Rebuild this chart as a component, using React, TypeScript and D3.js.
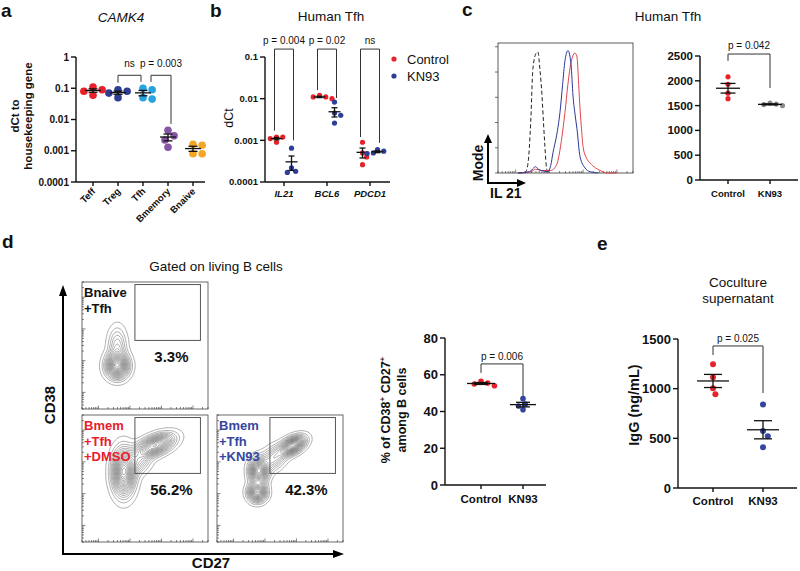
import React from 'react';
import * as d3 from 'd3';

const FONT = '"Liberation Sans", Arial, Helvetica, sans-serif';
const RED = '#e5232a';
const BLUE = '#2f3f97';

// ---- panel a: CAMK4 expression by cell type
const aCells = ['Teff', 'Treg', 'Tfh', 'Bmemory', 'Bnaive'];
const aColors = ['#e8202a', '#2e3c92', '#27a3df', '#8656a5', '#f6a623'];
const aValues = [
  [0.06, 0.08, 0.09, 0.11],
  [0.05, 0.07, 0.08, 0.09],
  [0.045, 0.05, 0.09, 0.1],
  [0.0045, 0.003, 0.0022, 0.0013],
  [0.0016, 0.0015, 0.0008, 0.0008],
];
const aTicks = [1, 0.1, 0.01, 0.001, 0.0001];
const aBrackets = [
  { from: 'Treg', to: 'Tfh', label: 'ns', top: 0.26, left: 0.15, right: 0.16 },
  { from: 'Tfh', to: 'Bmemory', label: 'p = 0.003', top: 0.26, left: 0.16, right: 0.0072 },
];

// ---- panel b: Human Tfh genes
const bGenes = ['IL21', 'BCL6', 'PDCD1'];
const bControl = [
  [0.0012, 0.0012, 0.0011, 0.0009],
  [0.012, 0.011, 0.011, 0.01],
  [0.0009, 0.0005, 0.0004, 0.00026],
];
const bKN93 = [
  [0.00065, 0.00022, 0.00018, 0.00017],
  [0.0083, 0.0045, 0.004, 0.0026],
  [0.0006, 0.00055, 0.0005, 0.00048],
];
const bTicks = [0.1, 0.01, 0.001, 0.0001];
const bBrackets = [
  { label: 'p = 0.004', top: 0.155, left: 0.0017, right: 0.001 },
  { label: 'p = 0.02', top: 0.155, left: 0.016, right: 0.0104 },
  { label: 'ns', top: 0.155, left: 0.0012, right: 0.00087 },
];

// ---- panel c: IL 21 histogram (channel, % of mode) and MFI
const cIsotype: [number, number][] = [
  [150, 0], [210, 1], [228, 8], [248, 40], [265, 83], [290, 95], [303, 96], [318, 82],
  [334, 61], [346, 38], [356, 21], [364, 8], [372, 2], [400, 0],
];
const cKN93Hist: [number, number][] = [
  [160, 0], [240, 1], [270, 4], [285, 5], [305, 3], [330, 2], [379, 1], [400, 6], [417, 16],
  [445, 30], [470, 48], [490, 70], [508, 89], [531, 97], [554, 86], [569, 61], [585, 46],
  [599, 35], [622, 13], [660, 4], [698, 1], [760, 0],
];
const cControlHist: [number, number][] = [
  [160, 0], [250, 1], [285, 3], [330, 2], [400, 2], [430, 4], [455, 10], [480, 25], [508, 48],
  [530, 70], [546, 83], [565, 92], [584, 95], [599, 92], [612, 70], [622, 51], [635, 33],
  [645, 21], [670, 12], [698, 8], [740, 4], [774, 2], [827, 0], [900, 0],
];
const cControl = [2080, 1930, 1750, 1640];
const cKN93 = [1550, 1530, 1520, 1500];
const cTicks = [0, 500, 1000, 1500, 2000, 2500];

// ---- panel d: flow populations [cx, cy, sx, sy, rho, weight] in % of plot
const dPlots = [
  { col: 0, row: 0, lines: ['Bnaive', '+Tfh'], color: '#111', pct: '3.3%',
    pops: [[28, 34, 5.5, 6, 0, 1], [28, 50, 4.5, 9, 0, 0.3]] },
  { col: 0, row: 1, lines: ['Bmem', '+Tfh', '+DMSO'], color: '#e8202a', pct: '56.2%',
    pops: [[33, 55, 5.5, 11, 0, 1], [58, 76, 9, 5.5, 0.5, 0.9], [45, 63, 6, 6, 0.2, 0.3]] },
  { col: 1, row: 1, lines: ['Bmem', '+Tfh', '+KN93'], color: '#3546a0', pct: '42.3%',
    pops: [[60, 76, 6, 4.5, 0.45, 0.8], [33, 56, 4.5, 6, 0, 0.75], [32, 39, 4.5, 4.5, 0, 0.7], [45, 66, 6, 6, 0.3, 0.3]] },
];
const dControl = [56.5, 54, 55, 55.5];
const dKN93 = [47, 44, 43, 41];
const dTicks = [0, 20, 40, 60, 80];

// ---- panel e: IgG in coculture supernatant
const eControl = [1245, 1115, 1005, 945];
const eKN93 = [840, 575, 520, 410];
const eTicks = [0, 500, 1000, 1500];

function dodge(ys: number[], r: number): number[] {
  const placed: { x: number; y: number }[] = [];
  const out: number[] = new Array(ys.length).fill(0);
  const order = d3.range(ys.length).sort((a, b) => ys[a] - ys[b]);
  for (const i of order) {
    let k = 0;
    let x = 0;
    for (;;) {
      const cand = k === 0 ? 0 : (k % 2 ? 1 : -1) * Math.ceil(k / 2) * r * 0.8;
      if (placed.every((p) => Math.hypot(p.x - cand, p.y - ys[i]) >= r * 2)) { x = cand; break; }
      k++;
    }
    placed.push({ x, y: ys[i] });
    out[i] = x;
  }
  return out;
}

function Dots({ x, values, y, r, color, half, semHalf }: any) {
  const ys = values.map((v: number) => y(v));
  const dx = dodge(ys, r);
  const m = d3.mean(values as number[])!;
  const s = d3.deviation(values as number[])! / Math.sqrt(values.length);
  return (
    <g>
      {ys.map((yy: number, k: number) => <circle key={k} cx={x + dx[k]} cy={yy} r={r} fill={color} />)}
      <g stroke="#111" strokeWidth={1.3}>
        <line x1={x - half} x2={x + half} y1={y(m)} y2={y(m)} />
        <line x1={x} x2={x} y1={y(m + s)} y2={y(m - s)} />
        <line x1={x - semHalf} x2={x + semHalf} y1={y(m + s)} y2={y(m + s)} />
        <line x1={x - semHalf} x2={x + semHalf} y1={y(m - s)} y2={y(m - s)} />
      </g>
    </g>
  );
}

function YAxis({ x, y, ticks, fmt, fs, weight = 'bold' }: any) {
  const [r0, r1] = y.range();
  return (
    <g>
      <line x1={x} x2={x} y1={r0} y2={r1} stroke="#111" strokeWidth={1.4} />
      {ticks.map((t: number) => (
        <g key={t}>
          <line x1={x - 5} x2={x} y1={y(t)} y2={y(t)} stroke="#111" strokeWidth={1.4} />
          <text x={x - 7} y={y(t)} dy="0.35em" textAnchor="end" fontSize={fs} fontWeight={weight}>{fmt(t)}</text>
        </g>
      ))}
    </g>
  );
}

function Bracket({ x1, x2, top, y1, y2, label, off = 5, fs = 10 }: any) {
  return (
    <g>
      <path d={`M${x1},${y1}V${top}H${x2}V${y2}`} fill="none" stroke="#333" strokeWidth={1} />
      <text x={(x1 + x2) / 2} y={top - off} textAnchor="middle" fontSize={fs}>{label}</text>
    </g>
  );
}

function LogTicks({ x0, x1, y0, y1, orient }: any) {
  // decorative flow-cytometry style log ticks along an edge
  const sc = d3.scaleLog().domain([30, 300000]).range(orient === 'x' ? [x0, x1] : [y0, y1]);
  return (
    <g stroke="#333" strokeWidth={0.6}>
      {sc.ticks().map((t, i) => {
        const p = sc(t);
        const major = Math.abs(Math.log10(t) - Math.round(Math.log10(t))) < 1e-6;
        const L = major ? 3.5 : 2;
        return orient === 'x'
          ? <line key={i} x1={p} x2={p} y1={y0} y2={y0 - L} />
          : <line key={i} x1={x0} x2={x0 + L} y1={p} y2={p} />;
      })}
    </g>
  );
}

function density(pops: number[][]) {
  const n = 100;
  const vals = new Array(n * n);
  let mx = 0;
  for (let j = 0; j < n; j++) {
    for (let i = 0; i < n; i++) {
      let v = 0;
      for (const [cx, cy, sx, sy, rho, w] of pops) {
        const dx = (i + 0.5 - cx) / sx;
        const dy = (j + 0.5 - cy) / sy;
        const q = (dx * dx - 2 * rho * dx * dy + dy * dy) / (1 - rho * rho);
        v += w * Math.exp(-q / 2);
      }
      vals[i + j * n] = v;
      if (v > mx) mx = v;
    }
  }
  return vals.map((v) => v / mx);
}

export default function App() {
  // panel a scales
  const aY = d3.scaleLog().domain([1e-4, 1]).range([182, 57]);
  const aX = d3.scalePoint<string>().domain(aCells).range([93, 193]);

  // panel b scales
  const bY = d3.scaleLog().domain([1e-4, 0.1]).range([182, 57]);
  const bX = d3.scaleBand<string>().domain(bGenes).range([262.5, 391.5]);
  const bSub = d3.scalePoint<string>().domain(['Control', 'KN93']).range([-7.5, 7.5]);
  const bc = (g: string) => bX(g)! + bX.bandwidth() / 2;

  // panel c histogram
  const hx = d3.scaleLinear().domain([0, 1024]).range([498, 633]);
  const hy = d3.scaleLinear().domain([0, 103]).range([173, 43]);
  const hLine = d3.line<[number, number]>().x((d) => hx(d[0])).y((d) => hy(d[1])).curve(d3.curveMonotoneX);
  const cY = d3.scaleLinear().domain([0, 2500]).range([180, 56]);
  const cX = d3.scalePoint<string>().domain(['Control', 'KN93']).range([728, 770]);

  // panel d
  const dY = d3.scaleLinear().domain([0, 80]).range([485, 338]);
  const dX = d3.scalePoint<string>().domain(['Control', 'KN93']).range([481, 523]);
  const colX = [82, 217];
  const rowY = [282, 415];
  const PW = 126;
  const PH = 127;
  const levels = d3.range(0.035, 1, 0.052);

  // panel e
  const eY = d3.scaleLinear().domain([0, 1500]).range([488, 339]);
  const eX = d3.scalePoint<string>().domain(['Control', 'KN93']).range([713, 763]);

  const fmtLog = (t: number) => (t >= 1 ? '1' : String(+t.toPrecision(1)));

  return (
    <svg width={800} height={571} style={{ position: 'absolute', left: 0, top: 0, background: '#fff' }}
      fontFamily={FONT} fill="#111">
      {/* panel letters */}
      {[['a', 1, 17], ['b', 210, 17], ['c', 462, 16], ['d', 2, 248], ['e', 597, 250]].map(([l, x, y]) => (
        <text key={l as string} x={x as number} y={y as number} fontSize={19} fontWeight="bold">{l}</text>
      ))}

      {/* ---------- panel a ---------- */}
      <text x={121} y={22} textAnchor="middle" fontSize={13.5} fontStyle="italic">CAMK4</text>
      <g transform="translate(19,116) rotate(-90)">
        <text textAnchor="middle" fontSize={11.5} fontWeight="bold">dCt to</text>
        <text y={12.5} textAnchor="middle" fontSize={11.5} fontWeight="bold">housekeeping gene</text>
      </g>
      <YAxis x={76} y={aY} ticks={aTicks} fmt={fmtLog} fs={10} />
      <line x1={76} x2={205} y1={182} y2={182} stroke="#111" strokeWidth={1.4} />
      {aCells.map((c) => (
        <g key={c}>
          <line x1={aX(c)} x2={aX(c)} y1={182} y2={186} stroke="#111" strokeWidth={1.4} />
          <text transform={`translate(${aX(c)! + 3},${192}) rotate(-45)`} textAnchor="end" fontSize={9.5} fontWeight="bold">{c}</text>
        </g>
      ))}
      {aCells.map((c, gi) => (
        <Dots key={c} x={aX(c)} values={aValues[gi]} y={aY} r={3.8} color={aColors[gi]} half={8} semHalf={4.5} />
      ))}
      {aBrackets.map((b, i) => (
        <Bracket key={i} x1={aX(b.from)! + (i > 0 ? 8 : 0)} x2={aX(b.to)! + (i === 0 ? -2 : 3)}
          top={aY(b.top)} y1={aY(b.left)} y2={aY(b.right)} label={b.label} off={8} />
      ))}

      {/* ---------- panel b ---------- */}
      <text x={331} y={21} textAnchor="middle" fontSize={13.5}>Human Tfh</text>
      <text transform="translate(233,118) rotate(-90)" textAnchor="middle" fontSize={12.5}>dCt</text>
      <YAxis x={265} y={bY} ticks={bTicks} fmt={fmtLog} fs={9.5} />
      <line x1={265} x2={390} y1={182} y2={182} stroke="#111" strokeWidth={1.4} />
      {bGenes.map((g, gi) => (
        <g key={g}>
          <line x1={bc(g)} x2={bc(g)} y1={182} y2={186} stroke="#111" strokeWidth={1.4} />
          <text x={bc(g)} y={197} textAnchor="middle" fontSize={9.5} fontWeight="bold" fontStyle="italic">{g}</text>
          <Dots x={bc(g) + bSub('Control')!} values={bControl[gi]} y={bY} r={2.6} color={RED} half={6} semHalf={3} />
          <Dots x={bc(g) + bSub('KN93')!} values={bKN93[gi]} y={bY} r={2.6} color={BLUE} half={6} semHalf={3} />
          <Bracket x1={bc(g) + bSub('Control')! - 2} x2={bc(g) + bSub('KN93')! + 2} top={bY(bBrackets[gi].top)}
            y1={bY(bBrackets[gi].left)} y2={bY(bBrackets[gi].right)} label={bBrackets[gi].label} off={5} />
        </g>
      ))}
      <circle cx={394} cy={59} r={2.6} fill={RED} />
      <text x={407} y={63.5} fontSize={13}>Control</text>
      <circle cx={394} cy={76} r={2.6} fill={BLUE} />
      <text x={407} y={80.5} fontSize={13}>KN93</text>

      {/* ---------- panel c ---------- */}
      <text x={668} y={21} textAnchor="middle" fontSize={13.5}>Human Tfh</text>
      <rect x={498} y={43} width={135} height={130} fill="none" stroke="#333" strokeWidth={0.8} />
      <g stroke="#333" strokeWidth={0.7}>
        {d3.range(0, 101, 20).map((t) => <line key={t} x1={495} x2={498} y1={hy(t)} y2={hy(t)} />)}
      </g>
      <LogTicks x0={498} x1={633} y0={173} orient="x" />
      <path d={hLine(cIsotype)!} fill="none" stroke="#222" strokeWidth={1} strokeDasharray="4,2.5" />
      <path d={hLine(cControlHist)!} fill="none" stroke="#e0454c" strokeWidth={1} />
      <path d={hLine(cKN93Hist)!} fill="none" stroke="#2b3898" strokeWidth={1} />
      <g stroke="#000" strokeWidth={2}>
        <line x1={488} x2={488} y1={183} y2={142} />
        <line x1={487} x2={518} y1={183} y2={183} />
      </g>
      <path d="M488,134 L484,143 L492,143 Z" fill="#000" />
      <path d="M526,183 L517,179 L517,187 Z" fill="#000" />
      <text transform="translate(483,163) rotate(-90)" textAnchor="middle" fontSize={14} fontWeight="bold">Mode</text>
      <text x={490} y={198} fontSize={14} fontWeight="bold">IL 21</text>

      <YAxis x={700} y={cY} ticks={cTicks} fmt={(t: number) => String(t)} fs={11.5} />
      <line x1={700} x2={798} y1={180} y2={180} stroke="#111" strokeWidth={1.4} />
      {['Control', 'KN93'].map((g) => (
        <g key={g}>
          <line x1={cX(g)} x2={cX(g)} y1={180} y2={184} stroke="#111" strokeWidth={1.4} />
          <text x={cX(g)} y={197} textAnchor="middle" fontSize={9.5} fontWeight="bold">{g}</text>
        </g>
      ))}
      <Dots x={cX('Control')} values={cControl} y={cY} r={2.6} color={RED} half={12} semHalf={7.5} />
      <Dots x={cX('KN93')} values={cKN93} y={cY} r={2.6} color="#8a8a8a" half={12} semHalf={7.5} />
      <Bracket x1={cX('Control')} x2={cX('KN93')} top={cY(2540)} y1={cY(2400)} y2={cY(1855)} label="p = 0.042" off={5} />

      {/* ---------- panel d ---------- */}
      <text x={216} y={271} textAnchor="middle" fontSize={13.5}>Gated on living B cells</text>
      {dPlots.map((p, pi) => {
        const x0 = colX[p.col];
        const y0 = rowY[p.row];
        const sx = d3.scaleLinear().domain([0, 100]).range([x0, x0 + PW]);
        const sy = d3.scaleLinear().domain([0, 100]).range([y0 + PH, y0]);
        const proj = d3.geoTransform({
          point(x: number, y: number) { (this as any).stream.point(sx(x), sy(y)); },
        });
        const path = d3.geoPath(proj);
        const cs = d3.contours().size([100, 100]).thresholds(levels)(density(p.pops));
        return (
          <g key={pi}>
            <g fill="none" stroke="#5f5f5f" strokeWidth={0.5}>
              {cs.map((c, k) => <path key={k} d={path(c as any) || ''} />)}
            </g>
            <rect x={x0} y={y0} width={PW} height={PH} fill="none" stroke="#444" strokeWidth={0.8} />
            <rect x={sx(42)} y={sy(98)} width={sx(94) - sx(42)} height={sy(54) - sy(98)} fill="none" stroke="#555" strokeWidth={1} />
            <LogTicks x0={x0} x1={x0 + PW} y0={y0 + PH} orient="x" />
            <LogTicks x0={x0} y0={y0 + PH} y1={y0} orient="y" />
            {p.lines.map((l, li) => (
              <text key={li} x={x0 + 2} y={y0 + 15 + li * 15.5} fontSize={13} fontWeight="bold" fill={p.color}>{l}</text>
            ))}
            <text x={sx(71)} y={sy(54) + 22} textAnchor="middle" fontSize={15} fontWeight="bold">{p.pct}</text>
          </g>
        );
      })}
      <g stroke="#000" strokeWidth={2}>
        <line x1={63} x2={63} y1={554} y2={295} />
        <line x1={62} x2={335} y1={554} y2={554} />
      </g>
      <path d="M63,285 L59,296 L67,296 Z" fill="#000" />
      <path d="M344,554 L333,550 L333,558 Z" fill="#000" />
      <text transform="translate(55,405) rotate(-90)" textAnchor="middle" fontSize={15} fontWeight="bold">CD38</text>
      <text x={211} y={568} textAnchor="middle" fontSize={15} fontWeight="bold">CD27</text>

      <g transform="translate(390,410) rotate(-90)" fontWeight="bold" fontSize={12.5}>
        <text textAnchor="middle">% of CD38<tspan dy={-5} fontSize={8}>+</tspan><tspan dy={5}> CD27</tspan><tspan dy={-5} fontSize={8}>+</tspan></text>
        <text y={16} textAnchor="middle">among B cells</text>
      </g>
      <YAxis x={445} y={dY} ticks={dTicks} fmt={(t: number) => String(t)} fs={13} />
      <line x1={445} x2={546} y1={485} y2={485} stroke="#111" strokeWidth={1.4} />
      {['Control', 'KN93'].map((g) => (
        <g key={g}>
          <line x1={dX(g)} x2={dX(g)} y1={485} y2={489} stroke="#111" strokeWidth={1.4} />
          <text x={dX(g)} y={503} textAnchor="middle" fontSize={11.5} fontWeight="bold">{g}</text>
        </g>
      ))}
      <Dots x={dX('Control')} values={dControl} y={dY} r={2.8} color={RED} half={14} semHalf={7} />
      <Dots x={dX('KN93')} values={dKN93} y={dY} r={2.8} color="#3546a0" half={13} semHalf={7} />
      <Bracket x1={dX('Control')} x2={dX('KN93')} top={dY(65.9)} y1={dY(61)} y2={dY(48)} label="p = 0.006" off={4} />

      {/* ---------- panel e ---------- */}
      <text x={738} y={287} textAnchor="middle" fontSize={13.5}>Coculture</text>
      <text x={738} y={303} textAnchor="middle" fontSize={13.5}>supernatant</text>
      <text transform="translate(639,405) rotate(-90)" textAnchor="middle" fontSize={14.5} fontWeight="bold">IgG (ng/mL)</text>
      <YAxis x={678} y={eY} ticks={eTicks} fmt={(t: number) => String(t)} fs={13} />
      <line x1={678} x2={797} y1={488} y2={488} stroke="#111" strokeWidth={1.4} />
      {['Control', 'KN93'].map((g) => (
        <g key={g}>
          <line x1={eX(g)} x2={eX(g)} y1={488} y2={492} stroke="#111" strokeWidth={1.4} />
          <text x={eX(g)} y={505} textAnchor="middle" fontSize={11.5} fontWeight="bold">{g}</text>
        </g>
      ))}
      <Dots x={eX('Control')} values={eControl} y={eY} r={3} color={RED} half={16} semHalf={9} />
      <Dots x={eX('KN93')} values={eKN93} y={eY} r={3} color="#3546a0" half={16} semHalf={9} />
      <Bracket x1={eX('Control')} x2={eX('KN93')} top={eY(1430)} y1={eY(1339)} y2={eY(956)} label="p = 0.025" off={4} />
    </svg>
  );
}
